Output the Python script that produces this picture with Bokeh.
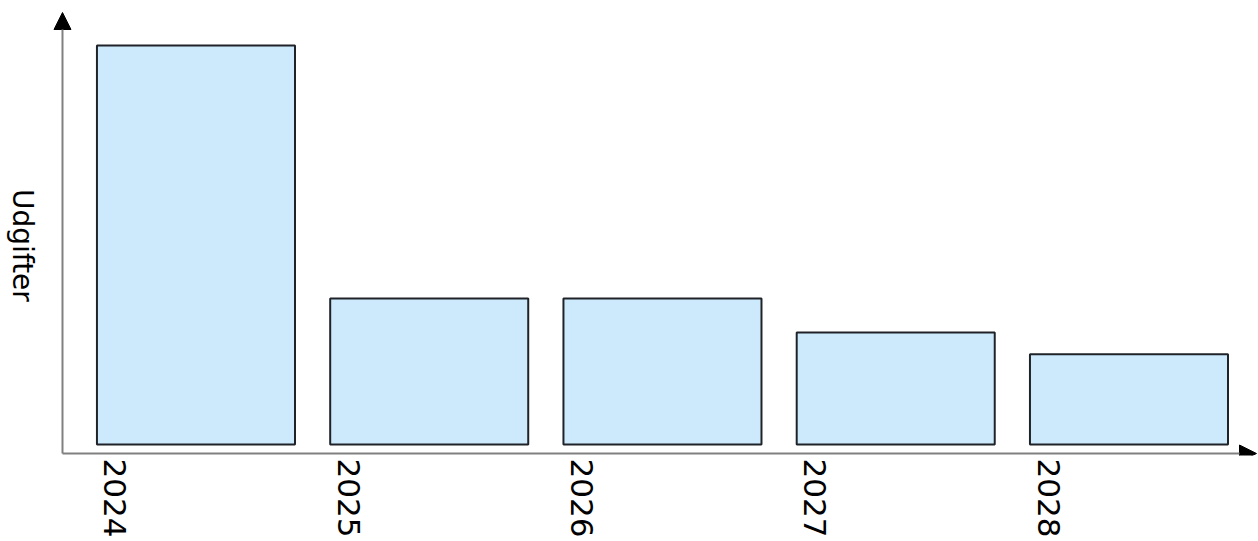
import math
from bokeh.plotting import figure
from bokeh.models import Arrow, NormalHead, FixedTicker, Range1d, Label
from bokeh.embed import file_html
from bokeh.resources import INLINE

# ---- data ----
years = ["2024", "2025", "2026", "2027", "2028"]
udgifter = [100.0, 36.6, 36.6, 28.1, 22.6]
y_label = "Udgifter"

# ---- layout constants ----
tick_pos = list(range(len(years)))
bar_offset = 0.345          # bars sit to the right of their label tick
bar_x = [t + bar_offset for t in tick_pos]

x0, x1 = -0.4930, 4.9003
y0, y1 = -2.757, 111.28
x_axis_pos = -0.2272
y_axis_pos = -2.256
x_tip = 4.8917
y_tip = 108.27

p = figure(width=1258, height=541, output_backend="svg", toolbar_location=None,
           x_range=Range1d(x0, x1), y_range=Range1d(y0, y1),
           y_axis_location=None,
           min_border_left=0, min_border_right=0, min_border_top=0,
           min_border_bottom=86)
p.outline_line_color = None
p.grid.visible = False
p.background_fill_color = "white"
p.border_fill_color = "white"

p.vbar(x=bar_x, top=udgifter, bottom=0, width=0.849,
       fill_color="#cdeafd", line_color="#1f2328", line_width=2)

# x axis: labels only
xa = p.xaxis[0]
xa.ticker = FixedTicker(ticks=tick_pos)
xa.major_label_overrides = {i: y for i, y in enumerate(years)}
xa.major_label_orientation = -math.pi / 2
xa.axis_line_color = None
xa.major_tick_line_color = None
xa.minor_tick_line_color = None
xa.major_tick_out = 0
xa.major_tick_in = 0
xa.major_label_standoff = 3
xa.major_label_text_font = "DejaVu Sans"
xa.major_label_text_font_size = "31px"
xa.major_label_text_color = "black"

# y axis title (reads top to bottom)
p.add_layout(Label(x=-0.3966, y=49.9, text=y_label, angle=-math.pi / 2,
                   text_align="center", text_baseline="middle",
                   text_font="DejaVu Sans", text_font_size="28px",
                   text_color="black"))

# axis lines with arrow heads
p.add_layout(Arrow(end=NormalHead(size=17, fill_color="black", line_color="black"),
                   x_start=x_axis_pos, y_start=y_axis_pos, x_end=x_axis_pos, y_end=y_tip,
                   line_color="#808080", line_width=2))
p.add_layout(Arrow(end=NormalHead(size=17, fill_color="black", line_color="black"),
                   x_start=x_axis_pos, y_start=y_axis_pos, x_end=x_tip, y_end=y_axis_pos,
                   line_color="#808080", line_width=2))

open("out.html", "w").write(file_html(p, INLINE))
